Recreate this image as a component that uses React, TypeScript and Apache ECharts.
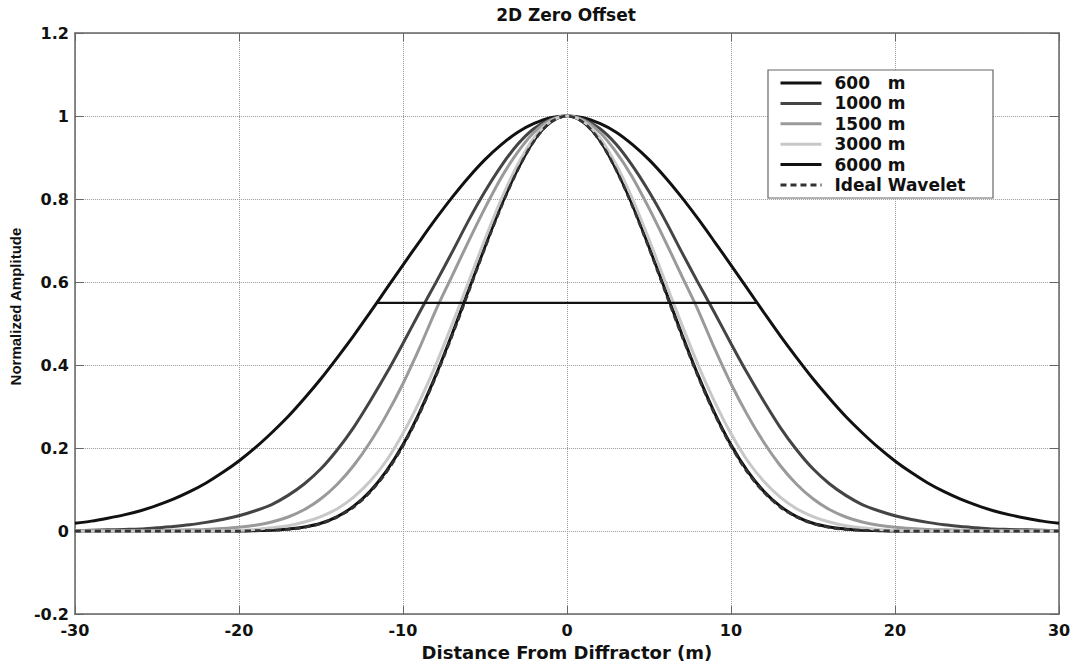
import React, { useEffect, useRef } from "react";
import * as echarts from "echarts";

// Distance from diffractor (m)
const xs = [
  -30, -29, -28, -27, -26, -25, -24, -23, -22, -21, -20, -19, -18, -17, -16, -15, -14, -13, -12, -11,
  -10, -9, -8, -7, -6, -5, -4, -3, -2, -1, 0, 1, 2, 3, 4, 5, 6, 7, 8, 9,
  10, 11, 12, 13, 14, 15, 16, 17, 18, 19, 20, 21, 22, 23, 24, 25, 26, 27, 28, 29, 30,
];

const amp600 = [
  0.019, 0.024, 0.031, 0.039, 0.049, 0.062, 0.077, 0.095, 0.116, 0.141, 0.169, 0.201, 0.237, 0.276, 0.32,
  0.367, 0.418, 0.471, 0.527, 0.584, 0.641, 0.697, 0.752, 0.804, 0.852, 0.895, 0.931, 0.961, 0.982, 0.996,
  1,
  0.996, 0.982, 0.961, 0.931, 0.895, 0.852, 0.804, 0.752, 0.697, 0.641, 0.584, 0.527, 0.471, 0.418, 0.367,
  0.32, 0.276, 0.237, 0.201, 0.169, 0.141, 0.116, 0.095, 0.077, 0.062, 0.049, 0.039, 0.031, 0.024, 0.019,
];

const amp1000 = [
  0.001, 0.002, 0.003, 0.004, 0.005, 0.008, 0.011, 0.015, 0.021, 0.028, 0.037, 0.049, 0.064, 0.086, 0.114,
  0.15, 0.196, 0.25, 0.313, 0.38, 0.452, 0.526, 0.598, 0.672, 0.748, 0.818, 0.88, 0.932, 0.97, 0.992,
  1,
  0.992, 0.97, 0.932, 0.88, 0.818, 0.748, 0.672, 0.598, 0.526, 0.452, 0.38, 0.313, 0.25, 0.196, 0.15,
  0.114, 0.086, 0.064, 0.049, 0.037, 0.028, 0.021, 0.015, 0.011, 0.008, 0.005, 0.004, 0.003, 0.002, 0.001,
];

const amp1500 = [
  0, 0, 0, 0, 0, 0.001, 0.002, 0.003, 0.004, 0.006, 0.009, 0.014, 0.022, 0.034, 0.052,
  0.078, 0.113, 0.158, 0.214, 0.28, 0.355, 0.44, 0.532, 0.615, 0.698, 0.778, 0.852, 0.913, 0.961, 0.99,
  1,
  0.99, 0.961, 0.913, 0.852, 0.778, 0.698, 0.615, 0.532, 0.44, 0.355, 0.28, 0.214, 0.158, 0.113, 0.078,
  0.052, 0.034, 0.022, 0.014, 0.009, 0.006, 0.004, 0.003, 0.002, 0.001, 0, 0, 0, 0, 0,
];

const amp3000 = [
  0, 0, 0, 0, 0, 0, 0, 0, 0, 0.001, 0.002, 0.004, 0.008, 0.013, 0.022,
  0.035, 0.054, 0.082, 0.12, 0.17, 0.235, 0.312, 0.4, 0.498, 0.6, 0.703, 0.8, 0.883, 0.948, 0.987,
  1,
  0.987, 0.948, 0.883, 0.8, 0.703, 0.6, 0.498, 0.4, 0.312, 0.235, 0.17, 0.12, 0.082, 0.054, 0.035,
  0.022, 0.013, 0.008, 0.004, 0.002, 0.001, 0, 0, 0, 0, 0, 0, 0, 0, 0,
];

const amp6000 = [
  0, 0, 0, 0, 0, 0, 0, 0, 0, 0, 0, 0.001, 0.002, 0.005, 0.01,
  0.019, 0.035, 0.06, 0.096, 0.145, 0.208, 0.285, 0.375, 0.475, 0.58, 0.685, 0.785, 0.872, 0.942, 0.985,
  1,
  0.985, 0.942, 0.872, 0.785, 0.685, 0.58, 0.475, 0.375, 0.285, 0.208, 0.145, 0.096, 0.06, 0.035, 0.019,
  0.01, 0.005, 0.002, 0.001, 0, 0, 0, 0, 0, 0, 0, 0, 0, 0, 0,
];

const ampIdeal = [
  0, 0, 0, 0, 0, 0, 0, 0, 0, 0, 0, 0.001, 0.002, 0.004, 0.009,
  0.018, 0.034, 0.058, 0.094, 0.142, 0.205, 0.282, 0.372, 0.471, 0.576, 0.682, 0.782, 0.87, 0.94, 0.985,
  1,
  0.985, 0.94, 0.87, 0.782, 0.682, 0.576, 0.471, 0.372, 0.282, 0.205, 0.142, 0.094, 0.058, 0.034, 0.018,
  0.009, 0.004, 0.002, 0.001, 0, 0, 0, 0, 0, 0, 0, 0, 0, 0, 0,
];

// Width marker at 0.55 amplitude for the 600 m curve
const markerX = [-11.55, 11.55];
const markerY = [0.55, 0.55];

const seriesNames = ["600   m", "1000 m", "1500 m", "3000 m", "6000 m", "Ideal Wavelet"];
const seriesColors = ["#111111", "#444444", "#9a9a9a", "#c8c8c8", "#111111", "#333333"];
const seriesData = [amp600, amp1000, amp1500, amp3000, amp6000, ampIdeal];
const seriesZ = [3, 3, 3, 3, 2, 4];

const xTicks = { min: -30, max: 30, interval: 10 };
const yTicks = { min: -0.2, max: 1.2, interval: 0.2 };

export default function App() {
  const ref = useRef<HTMLDivElement>(null);

  useEffect(() => {
    if (!ref.current) return;
    const chart = echarts.init(ref.current, undefined, { renderer: "svg" });
    const labelFont = "DejaVu Sans";
    const frame = { show: true, lineStyle: { color: "#666", width: 1.5 } };

    const series: any[] = seriesNames.map((name, i) => ({
      name,
      type: "line",
      data: xs.map((x, j) => [x, seriesData[i][j]]),
      symbol: "none",
      smooth: 0.3,
      z: seriesZ[i],
      lineStyle: {
        color: seriesColors[i],
        width: i === 5 ? 2.8 : 3,
        type: i === 5 ? [6, 4] : "solid",
      },
      itemStyle: { color: seriesColors[i] },
    }));
    series.push({
      name: "marker",
      type: "line",
      data: markerX.map((x, j) => [x, markerY[j]]),
      symbol: "none",
      z: 3,
      lineStyle: { color: "#111", width: 2.2 },
    });

    chart.setOption({
      animation: false,
      backgroundColor: "#fff",
      title: {
        text: "2D Zero Offset",
        left: 566,
        textAlign: "center",
        top: 6,
        padding: 0,
        textStyle: { fontFamily: labelFont, fontWeight: "bold", fontSize: 17, color: "#111" },
      },
      grid: { left: 73, right: 19, top: 33, bottom: 49, containLabel: false },
      graphic: [
        {
          type: "rect",
          z: 10,
          shape: { x: 768, y: 70, width: 225, height: 128 },
          style: { fill: "#fff", stroke: "#666", lineWidth: 1.2 },
        },
      ],
      legend: {
        data: seriesNames,
        orient: "vertical",
        left: 779,
        top: 74.5,
        padding: 0,
        z: 20,
        itemWidth: 41,
        itemHeight: 14,
        itemGap: 3.4,
        itemStyle: { opacity: 0, borderWidth: 0 },
        lineStyle: { width: 3 },
        textStyle: {
          fontFamily: labelFont,
          fontWeight: "bold",
          fontSize: 17,
          lineHeight: 17,
          color: "#111",
          padding: [0, 0, 0, 8],
        },
      },
      xAxis: [
        {
          type: "value",
          ...xTicks,
          position: "bottom",
          name: "Distance From Diffractor (m)",
          nameLocation: "middle",
          nameGap: 22,
          nameTextStyle: { fontFamily: labelFont, fontWeight: "bold", fontSize: 18, color: "#111" },
          axisLine: { ...frame, onZero: false },
          axisTick: { show: true, inside: true, length: 8, lineStyle: { color: "#666" } },
          axisLabel: { fontFamily: labelFont, fontWeight: "bold", fontSize: 16, color: "#111", margin: 8 },
          splitLine: { show: true, lineStyle: { color: "#999", type: "dotted", width: 1 } },
        },
        {
          type: "value",
          ...xTicks,
          position: "top",
          axisLine: { ...frame, onZero: false },
          axisTick: { show: true, inside: true, length: 8, lineStyle: { color: "#666" } },
          axisLabel: { show: false },
          splitLine: { show: false },
        },
      ],
      yAxis: [
        {
          type: "value",
          ...yTicks,
          position: "left",
          name: "Normalized Amplitude",
          nameLocation: "middle",
          nameGap: 45,
          nameTextStyle: {
            fontFamily: "Liberation Sans",
            fontWeight: "bold",
            fontSize: 15,
            color: "#111",
            padding: [0, 0, 0, 34],
          },
          axisLine: { ...frame, onZero: false },
          axisTick: { show: true, inside: true, length: 9, lineStyle: { color: "#666" } },
          axisLabel: { fontFamily: labelFont, fontWeight: "bold", fontSize: 16, color: "#111", margin: 6 },
          splitLine: { show: true, lineStyle: { color: "#999", type: "dotted", width: 1 } },
        },
        {
          type: "value",
          ...yTicks,
          position: "right",
          axisLine: { ...frame, onZero: false },
          axisTick: { show: true, inside: true, length: 9, lineStyle: { color: "#666" } },
          axisLabel: { show: false },
          splitLine: { show: false },
        },
      ],
      series,
    });

    return () => chart.dispose();
  }, []);

  return (
    <div
      ref={ref}
      style={{ position: "absolute", left: 0, top: 0, width: 1078, height: 666, background: "#fff" }}
    />
  );
}
